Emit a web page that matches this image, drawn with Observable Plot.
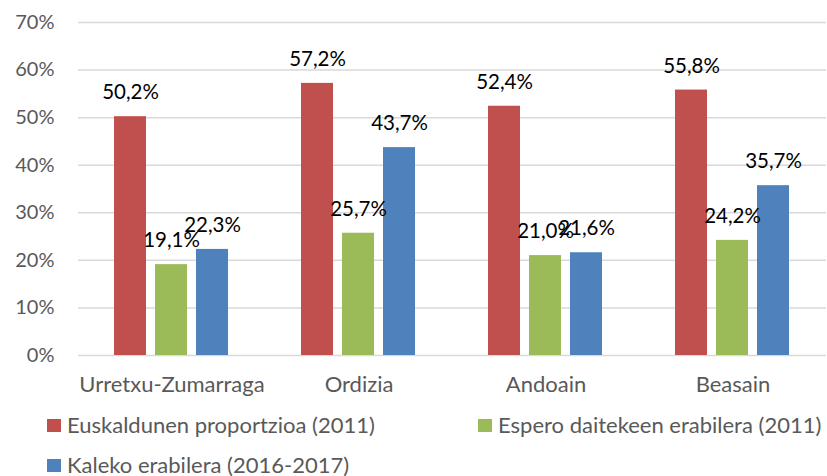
<!DOCTYPE html>
<html>
<head>
<meta charset="utf-8">
<script src="https://cdn.jsdelivr.net/npm/d3@7"></script>
<script src="https://cdn.jsdelivr.net/npm/@observablehq/plot@0.6"></script>
<style>
  html, body { margin: 0; padding: 0; background: #fff; }
  body { width: 827px; height: 476px; position: relative; font-family: Lato, "Open Sans", sans-serif; }
  #chart svg { display: block; }
  .legend-item { position: absolute; display: flex; align-items: center; height: 20px; color: #595959; font-size: 22px; white-space: nowrap; line-height: 20px; }
  .legend-item .sw { width: 14px; height: 13px; margin-right: 6px; flex: none; }
</style>
</head>
<body>
<div id="chart"></div>
<div id="legend"></div>
<script>
const categories = ["Urretxu-Zumarraga", "Ordizia", "Andoain", "Beasain"];
const series = ["Euskaldunen proportzioa (2011)", "Espero daitekeen erabilera (2011)", "Kaleko erabilera (2016-2017)"];
const colors = ["#C0504D", "#9BBB59", "#4F81BD"];
const euskaldunak = [50.2, 57.2, 52.4, 55.8];
const esperoa = [19.1, 25.7, 21.0, 24.2];
const kalekoa = [22.3, 43.7, 21.6, 35.7];
const yTicks = [0, 10, 20, 30, 40, 50, 60, 70];

const valuesBySeries = [euskaldunak, esperoa, kalekoa];
const data = [];
categories.forEach((c, i) => {
  series.forEach((s, j) => {
    data.push({category: c, series: s, value: valuesBySeries[j][i]});
  });
});

const fmt = v => v.toFixed(1).replace(".", ",") + "%";

const chart = Plot.plot({
  width: 827,
  height: 400,
  marginLeft: 77,
  marginRight: 1,
  marginTop: 22,
  marginBottom: 45,
  style: {fontFamily: "Lato, 'Open Sans', sans-serif", fontSize: "20px", background: "#fff"},
  fx: {domain: categories, padding: 0, label: null},
  x: {domain: series, paddingInner: 0.214, paddingOuter: 0.84, axis: null},
  y: {domain: [0, 70], label: null},
  color: {domain: series, range: colors},
  marks: [
    Plot.gridY(yTicks, {stroke: "#d9d9d9", strokeOpacity: 1, strokeWidth: 1.5}),
    Plot.axisY(yTicks, {tickSize: 0, tickPadding: 24, tickFormat: d => d + "%", fill: "#595959", fontSize: 20, label: null}),
    Plot.axisFx({anchor: "bottom", tickSize: 0, tickPadding: 21, fill: "#595959", fontSize: 22, label: null}),
    Plot.barY(data, {fx: "category", x: "series", y: "value", fill: "series"}),
    Plot.text(data, {fx: "category", x: "series", y: "value", text: d => fmt(d.value), dy: -24, fill: "#000", fontSize: 20.5})
  ]
});
document.getElementById("chart").appendChild(chart);

const legendPos = [{left: 47, top: 415}, {left: 478, top: 415}, {left: 47, top: 455}];
const legend = document.getElementById("legend");
series.forEach((s, j) => {
  const item = document.createElement("div");
  item.className = "legend-item";
  item.style.left = legendPos[j].left + "px";
  item.style.top = legendPos[j].top + "px";
  const sw = document.createElement("span");
  sw.className = "sw";
  sw.style.background = colors[j];
  const t = document.createElement("span");
  t.textContent = s;
  item.appendChild(sw);
  item.appendChild(t);
  legend.appendChild(item);
});
</script>
</body>
</html>
